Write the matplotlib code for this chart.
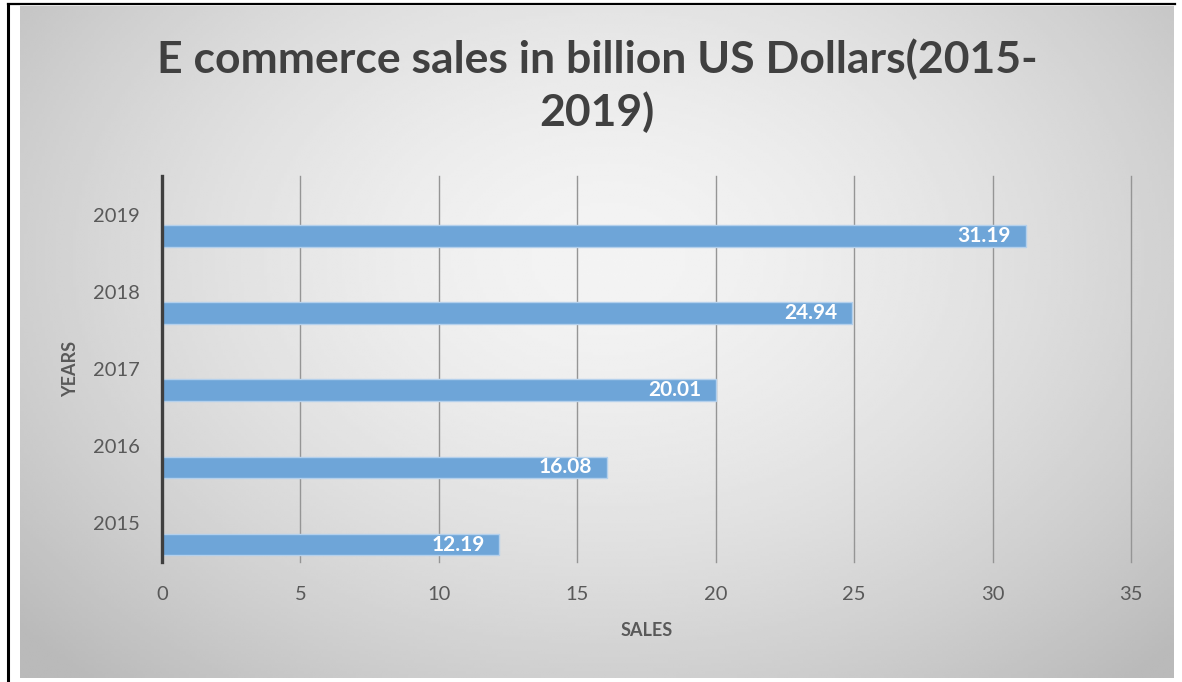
import matplotlib.pyplot as plt
import numpy as np

years = ["2015", "2016", "2017", "2018", "2019"]
sales = [12.19, 16.08, 20.01, 24.94, 31.19]
x_ticks = [0, 5, 10, 15, 20, 25, 30, 35]

W, H = 1182, 682
plt.rcParams['font.family'] = ['Lato', 'DejaVu Sans']

fig = plt.figure(figsize=(W / 100, H / 100), dpi=100)
fig.patch.set_facecolor("white")

# grey radial-ish backdrop
bg = fig.add_axes([20 / W, 4 / H, 1154 / W, 672 / H])
gx, gy = np.meshgrid(np.linspace(-1, 1, 400), np.linspace(-1, 1, 240))
r = np.sqrt(((gx - 0.02) / 1.05) ** 2 + ((gy + 0.25) / 1.3) ** 2)
shade = 0.955 - 0.15 * np.clip(r, 0, 1.3) ** 1.6
bg.imshow(shade, cmap="gray", vmin=0, vmax=1, aspect="auto",
          extent=[0, 1, 0, 1], interpolation="bilinear")
bg.axis("off")

# black frame lines (left and top)
fig.add_artist(plt.Line2D([7.5 / W, 7.5 / W], [0, 1 - 4 / H], color="black", lw=2.2))
fig.add_artist(plt.Line2D([7.5 / W, 1175 / W], [1 - 4 / H, 1 - 4 / H], color="black", lw=1.6))

ax = fig.add_axes([162 / W, (H - 562) / H, (1131 - 162) / W, (562 - 176) / H])
ax.patch.set_alpha(0)

pos = np.arange(len(years))
bars = ax.barh(pos - 0.275, sales, height=0.28, color="#6ea5d8",
               edgecolor="#b4d0ec", linewidth=1.0, zorder=3)

for b, v in zip(bars, sales):
    ax.annotate(f"{v:.2f}", (b.get_width(), b.get_y() + b.get_height() / 2),
                xytext=(-15, 0), textcoords="offset pixels",
                ha="right", va="center", color="white",
                fontsize=15, fontweight="bold", zorder=4)

ax.set_xlim(0, 35)
ax.set_ylim(-0.5, 4.5)
ax.set_xticks(x_ticks)
ax.set_yticks(pos)
ax.set_yticklabels(years)
ax.tick_params(length=0, labelsize=14.5, labelcolor="#595959")
ax.tick_params(axis="x", pad=17)
ax.tick_params(axis="y", pad=16)

for xv in x_ticks[1:]:
    ax.axvline(xv, color="#959595", lw=1.0, zorder=1, clip_on=False)

for s in ["top", "right", "bottom"]:
    ax.spines[s].set_visible(False)
ax.spines["left"].set_color("#3f3f3f")
ax.spines["left"].set_linewidth(2.4)
ax.spines["left"].set_zorder(5)

ax.set_xlabel("SALES", fontsize=13, fontweight="bold", color="#595959", labelpad=14)
ax.set_ylabel("YEARS", fontsize=13, fontweight="bold", color="#595959", labelpad=10)

fig.text(597 / W, 1 - 86 / H, "E commerce sales in billion US Dollars(2015-\n2019)",
         ha="center", va="center", fontsize=32, fontweight="bold",
         color="#404040", linespacing=1.32)

fig.savefig("out.png", dpi=100)
